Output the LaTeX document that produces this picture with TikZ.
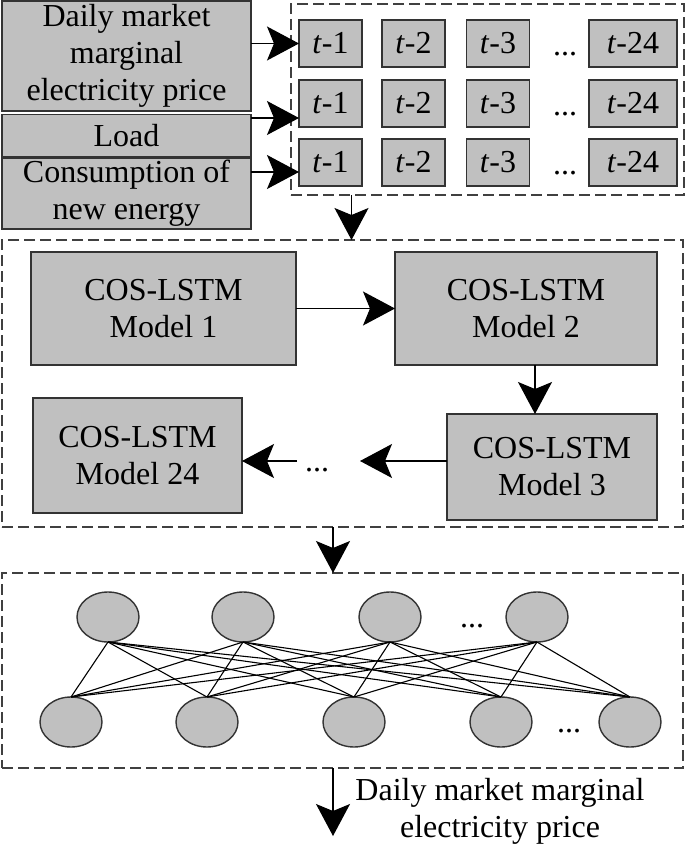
\documentclass[tikz,border=0pt]{standalone}
\usepackage{fontspec}
\setmainfont{Liberation Serif}
\usetikzlibrary{arrows.meta,shapes.geometric}
\definecolor{cellgray}{RGB}{192,192,192}
\tikzset{
  graybox/.style={draw=black!80, line width=0.85pt, fill=cellgray, align=center,
    inner sep=0pt, outer sep=0pt, font=\fontsize{16}{18.5}\selectfont},
  tbox/.style={graybox, minimum width=31.5pt, minimum height=23.5pt},
  frame/.style={draw=black!75, line width=0.7pt, dash pattern=on 5.5pt off 2.5pt,
    inner sep=0pt, outer sep=0pt},
  neuron/.style={ellipse, draw=black!80, line width=0.7pt, fill=cellgray,
    minimum width=31pt, minimum height=25pt, inner sep=0pt, outer sep=0pt},
  link/.style={line width=0.55pt},
  arr/.style={line width=0.6pt, -{Stealth[length=16pt,width=17pt,inset=3.5pt]}},
  dots/.style={font=\fontsize{16}{18.5}\selectfont, inner sep=0pt}
}
\begin{document}
\begin{tikzpicture}[x=0.5pt,y=-0.5pt]
    \useasboundingbox (0,0) rectangle (685,846);

    % input series
    \node[graybox, minimum width=124.5pt, minimum height=55pt] (price) at (126.5,56) {Daily market\\marginal\\electricity price};
    \node[graybox, minimum width=124.5pt, minimum height=21pt] (load) at (126.5,135.5) {Load};
    \node[graybox, minimum width=124.5pt, minimum height=35.5pt] (newenergy) at (126.5,193.5) {Consumption of\\new energy};

    % lagged values
    \node[frame, minimum width=196.5pt, minimum height=95.5pt] (lagframe) at (487.5,99.5) {};
    \foreach \r/\y in {1/43.5,2/103.5,3/162.5} {
        \node[tbox] (lag\r a) at (330.5,\y) {\textit{t}-1};
        \node[tbox] (lag\r b) at (413.5,\y) {\textit{t}-2};
        \node[tbox] (lag\r c) at (498,\y) {\textit{t}-3};
        \node[dots] (lag\r dots) at (565,\y+2) {\vphantom{1}...};
        \node[tbox, minimum width=44pt] (lag\r x) at (633,\y) {\textit{t}-24};
    }
    \coordinate (in1) at (lag1a.west);
    \coordinate (in2) at ([yshift=-7.25pt]lag2a.west);
    \coordinate (in3) at ([yshift=-4.75pt]lag3a.west);
    \draw[arr] (in1 -| price.east) -- (in1);
    \draw[arr] (in2 -| load.east) -- (in2);
    \draw[arr] (in3 -| newenergy.east) -- (in3);

    % COS-LSTM chain
    \node[frame, minimum width=340.5pt, minimum height=143.5pt] (modelframe) at (342.5,383.5) {};
    \node[graybox, minimum width=132.5pt, minimum height=56.5pt] (m1) at (163.5,308.5) {COS-LSTM\\Model 1};
    \node[graybox, minimum width=131pt, minimum height=56.5pt] (m2) at (526,308.5) {COS-LSTM\\Model 2};
    \node[graybox, minimum width=105pt, minimum height=53pt] (m3) at (552,467) {COS-LSTM\\Model 3};
    \node[graybox, minimum width=104.5pt, minimum height=57.5pt] (m24) at (137.5,455.5) {COS-LSTM\\Model 24};
    \node[dots] (mdots) at (317,461) {\vphantom{1}...};
    \coordinate (gapR) at (360,461);
    \coordinate (gapL) at (297,461);

    \draw[arr] ([xshift=30.25pt]lagframe.south west) coordinate (d1) -- (d1 |- modelframe.north);
    \draw[arr] (m1) -- (m2);
    \draw[arr] ([xshift=4.5pt]m2.south) coordinate (d2) -- (d2 |- m3.north);
    \draw[arr] (m3.west |- gapR) -- (gapR);
    \draw[arr] (gapL) -- (gapL -| m24.east);

    % fully connected layer
    \node[frame, minimum width=340.5pt, minimum height=97.5pt] (netframe) at (342.5,670.5) {};
    \draw[arr] ([xshift=-4.75pt]modelframe.south) coordinate (d3) -- (d3 |- netframe.north);
    \foreach \i/\x in {1/108,2/243,3/390,4/537} \node[neuron] (h\i) at (\x,617) {};
    \foreach \j/\x in {1/71,2/207,3/354,4/501,5/630} \node[neuron] (o\j) at (\x,722) {};
    \foreach \i in {1,...,4} \foreach \j in {1,...,5} \draw[link] (h\i.south) -- (o\j.north);
    \node[dots] (hdots) at (472,617) {\vphantom{1}...};
    \node[dots] (odots) at (569,722) {\vphantom{1}...};

    % output
    \coordinate (outend) at (333,836);
    \draw[arr] ([xshift=-4.75pt]netframe.south) -- (outend);
    \node[align=center, inner sep=0pt, font=\fontsize{16}{18.5}\selectfont] (outlabel) at (500,811) {Daily market marginal\\electricity price};
\end{tikzpicture}
\end{document}
